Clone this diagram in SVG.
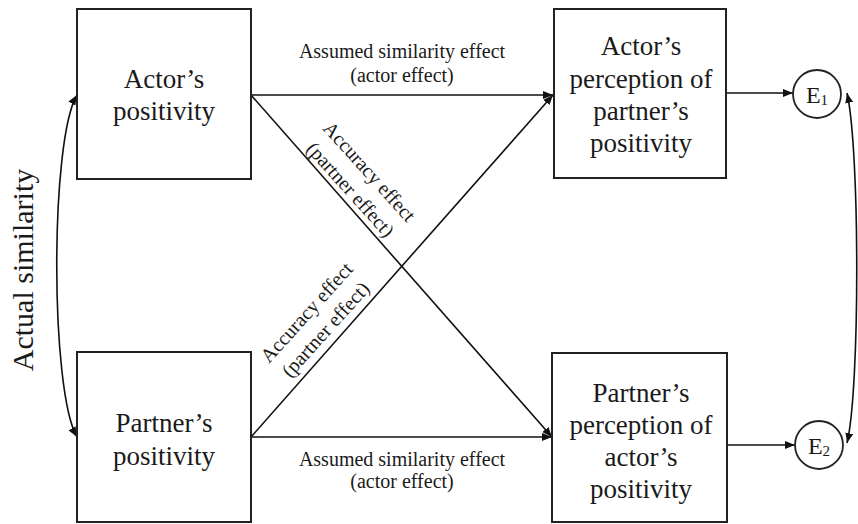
<svg xmlns="http://www.w3.org/2000/svg" width="858" height="524" viewBox="0 0 858 524" font-family="'Liberation Serif', 'Times New Roman', 'DejaVu Serif', serif">
<style>
.box{fill:#fff;stroke:#222;stroke-width:2}
.circ{fill:#fff;stroke:#222;stroke-width:1.8}
.ln{fill:none;stroke:#111;stroke-width:1.6}
text{font-family:'Liberation Serif','Times New Roman','DejaVu Serif',serif;fill:#1a1a1a;text-anchor:middle}
.bt{font-size:27px}
.lb{font-size:20px}
</style>
<defs>
<marker id="ah" markerWidth="10" markerHeight="8" refX="10" refY="4" orient="auto-start-reverse" markerUnits="userSpaceOnUse">
<path d="M0,0 L10,4 L0,8 z" fill="#111"/>
</marker>
</defs>
<rect width="858" height="524" fill="#fff"/>
<g id="connectors">
<line class="ln" x1="251" y1="95" x2="553" y2="95" marker-end="url(#ah)"/>
<line class="ln" x1="251" y1="437" x2="552" y2="437" marker-end="url(#ah)"/>
<line class="ln" x1="251" y1="95" x2="552" y2="437" marker-end="url(#ah)"/>
<line class="ln" x1="251" y1="437" x2="553" y2="95" marker-end="url(#ah)"/>
<line class="ln" x1="726" y1="93" x2="793" y2="93" marker-end="url(#ah)"/>
<line class="ln" x1="727" y1="445" x2="795" y2="445" marker-end="url(#ah)"/>
<path class="ln" d="M77,95 C50,140 50,390 77,437" marker-start="url(#ah)" marker-end="url(#ah)"/>
<path class="ln" d="M847,93 C860,150 860,390 847,443" marker-start="url(#ah)" marker-end="url(#ah)"/>
<text class="lb" x="402" y="58">Assumed similarity  effect</text>
<text class="lb" x="402" y="82">(actor effect)</text>
<text class="lb" x="402" y="466">Assumed similarity  effect</text>
<text class="lb" x="402" y="488">(actor effect)</text>
<text class="lb" transform="translate(364.5,176) rotate(48)">Accuracy effect</text>
<text class="lb" transform="translate(345.5,194) rotate(48)">(partner effect)</text>
<text class="lb" transform="translate(311.5,317) rotate(-48)">Accuracy effect</text>
<text class="lb" transform="translate(330.5,334) rotate(-48)">(partner effect)</text>
<text font-size="30" transform="translate(33,270) rotate(-90)">Actual  similarity</text>
</g>
<g id="actor-positivity">
<rect class="box" x="77" y="9" width="174" height="170"/>
<text class="bt" x="164" y="88">Actor’s</text>
<text class="bt" x="164" y="120">positivity</text>
</g>
<g id="partner-positivity">
<rect class="box" x="77" y="352" width="174" height="170"/>
<text class="bt" x="164" y="432">Partner’s</text>
<text class="bt" x="164" y="465">positivity</text>
</g>
<g id="actor-perception">
<rect class="box" x="554" y="9" width="172" height="169"/>
<text class="bt" x="641" y="55">Actor’s</text>
<text class="bt" x="641" y="88">perception of</text>
<text class="bt" x="641" y="120">partner’s</text>
<text class="bt" x="641" y="152">positivity</text>
</g>
<g id="partner-perception">
<rect class="box" x="552" y="353" width="175" height="169"/>
<text class="bt" x="641" y="402">Partner’s</text>
<text class="bt" x="641" y="434">perception of</text>
<text class="bt" x="641" y="466">actor’s</text>
<text class="bt" x="641" y="498">positivity</text>
</g>
<g id="E1">
<circle class="circ" cx="817" cy="94" r="24"/>
<text font-size="24" x="817" y="103">E<tspan font-size="15" dy="2">1</tspan></text>
</g>
<g id="E2">
<circle class="circ" cx="819" cy="445" r="24"/>
<text font-size="24" x="819" y="454">E<tspan font-size="15" dy="2">2</tspan></text>
</g>
</svg>
